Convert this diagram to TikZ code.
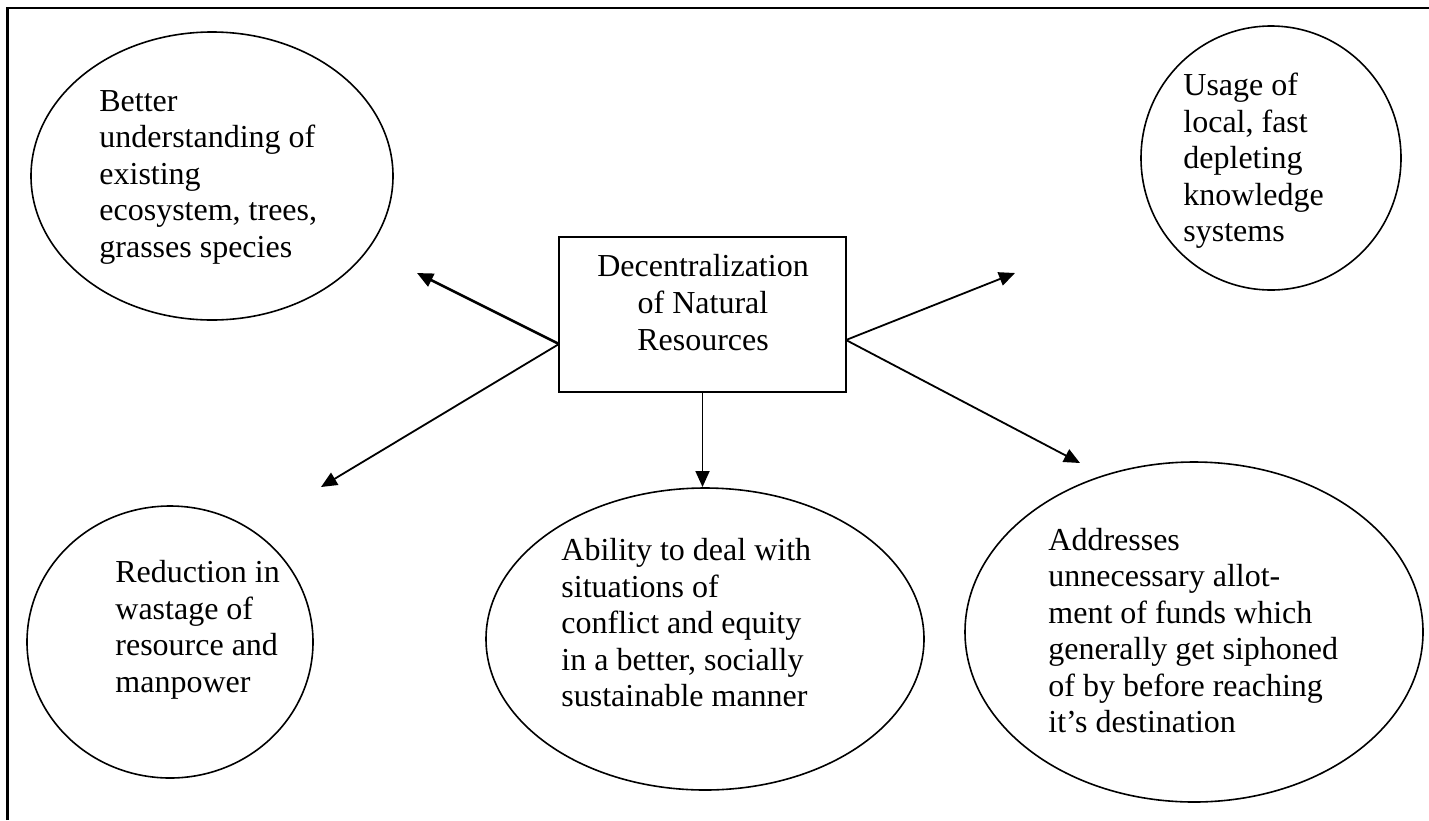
\documentclass[tikz,border=0pt]{standalone}
\usepackage{fontspec}
\setmainfont{Liberation Serif}
\usetikzlibrary{arrows.meta,shapes.geometric}
\tikzset{
    bubble/.style={draw, ellipse, line width=0.8pt, inner sep=0pt},
    bubbletext/.style={align=left, inner sep=0pt, anchor=west, font=\fontsize{16}{18.25}\selectfont},
    link/.style={line width=0.9pt, -{Triangle[length=8pt,width=7pt]}}
}
\begin{document}
\begin{tikzpicture}[x=0.5pt,y=-0.5pt]
            \useasboundingbox (0,0) rectangle (1429,820);
            \draw[line width=1.4pt] (7.5,820) -- (7.5,8) -- (1429,8);

            \node[draw, line width=1pt, minimum width=143.5pt, minimum height=77.5pt] (hub) at (702.5,314.5) {};
            \node[align=center, inner sep=0pt, font=\fontsize{16}{18.5}\selectfont] (hubtext) at (703,302.5) {Decentralization\\of Natural\\Resources};

            \node[bubble, minimum width=181pt, minimum height=144pt] (understand) at (212,176) {};
            \node[bubbletext] (understandtext) at (99,177) {Better\\understanding of\\existing\\ecosystem, trees,\\grasses species};

            \node[bubble, minimum width=130pt, minimum height=132pt] (local) at (1271,158) {};
            \node[bubbletext] (localtext) at (1183,161) {Usage of\\local, fast\\depleting\\knowledge\\systems};

            \node[bubble, minimum width=143pt, minimum height=136pt] (wastage) at (170,642) {};
            \node[bubbletext] (wastagetext) at (115,630) {Reduction in\\wastage of\\resource and\\manpower};

            \node[bubble, minimum width=219pt, minimum height=151pt] (conflict) at (705,639) {};
            \node[bubbletext] (conflicttext) at (561,623) {Ability to deal with\\situations of\\conflict and equity\\in a better, socially\\sustainable manner};

            \node[bubble, minimum width=229pt, minimum height=170pt] (funds) at (1194,632) {};
            \node[bubbletext] (fundstext) at (1048,630.5) {Addresses\\unnecessary allot-\\ment of funds which\\generally get siphoned\\of by before reaching\\it’s destination};

            \coordinate (lhub) at (559,344);
            \coordinate (rhub) at (846,340);
            \coordinate (tipa) at (417,273);
            \coordinate (tipb) at (1015,273);
            \coordinate (tipc) at (321,487);
            \coordinate (tipd) at (702.5,487);
            \coordinate (tipe) at (1080,463);

            \draw[link, line width=1.3pt] (lhub) -- (tipa);
            \draw[link] (lhub) -- (tipc);
            \draw[link] (hub.south) -- (tipd);
            \draw[link] (rhub) -- (tipb);
            \draw[link] (rhub) -- (tipe);
        \end{tikzpicture}
\end{document}
